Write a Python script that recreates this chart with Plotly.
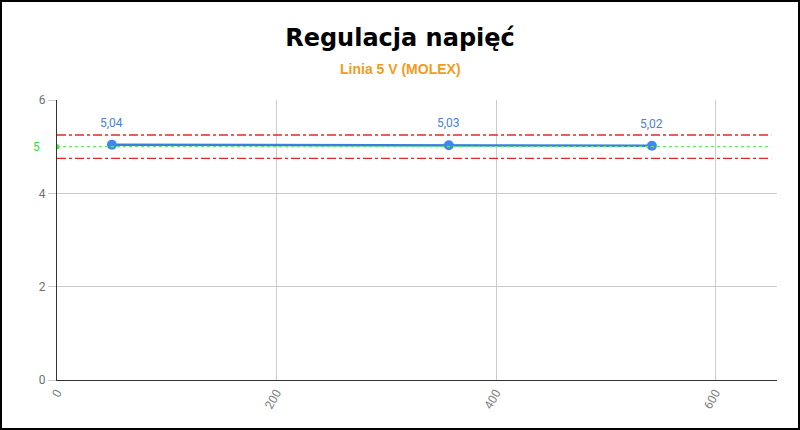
import plotly.graph_objects as go

# obciazenie [W] vs napiecie linii 5 V
load = [50, 357, 542]
voltage = [5.04, 5.03, 5.02]
labels = ["5,04", "5,03", "5,02"]
nominal = 5.0
tolerance = 0.05  # +/- 5 %
y_ticks = [0, 2, 4, 6]
x_ticks = [0, 200, 400, 600]

upper = nominal * (1 + tolerance)
lower = nominal * (1 - tolerance)

fig = go.Figure()

# linia nominalna 5 V
fig.add_shape(type="line", xref="paper", yref="y", x0=0, x1=0.992, y0=nominal, y1=nominal,
              line=dict(color="#5cf05c", width=1.1, dash="dot"))
# granice tolerancji
for lim in (upper, lower):
    fig.add_shape(type="line", xref="paper", yref="y", x0=0, x1=0.992, y0=lim, y1=lim,
                  line=dict(color="#e02a2a", width=1.4, dash="dashdot"))

fig.add_trace(go.Scatter(x=[0], y=[nominal], mode="markers",
                         marker=dict(color="#33dd33", size=5), showlegend=False, hoverinfo="skip"))
fig.add_trace(go.Scatter(name="5 V", x=load, y=voltage, mode="lines+markers",
                         line=dict(color="#3a7fe0", width=2.5),
                         marker=dict(color="#4285f4", size=10, line=dict(width=0)),
                         showlegend=False))

# etykiety wartosci nad punktami
for xv, yv, lab in zip(load, voltage, labels):
    fig.add_annotation(x=xv, y=yv, text=lab, showarrow=False, yshift=22,
                       font=dict(family="Roboto", size=12, color="#4a80d8"))

fig.update_layout(
    width=800, height=430,
    margin=dict(l=57, r=23, t=100, b=50),
    paper_bgcolor="white", plot_bgcolor="white",
    title=dict(text="<b>Regulacja napięć</b>", x=0.5, xanchor="center",
               y=1 - 38 / 430, yanchor="middle",
               font=dict(family="DejaVu Sans", size=24, color="black")),
    font=dict(family="Roboto", size=12, color="#666666"),
)
fig.add_annotation(text="<b>Linia 5 V (MOLEX)</b>", xref="paper", yref="paper",
                   x=(400 - 57) / 720, y=1 + 31 / 280, xanchor="center", yanchor="middle",
                   showarrow=False,
                   font=dict(family="Liberation Sans", size=14, color="#f39c1a"))
fig.add_annotation(text="5", xref="paper", yref="y", x=0, y=nominal, xanchor="right",
                   xshift=-15, showarrow=False,
                   font=dict(family="Roboto", size=12, color="#33dd33"))

fig.update_xaxes(range=[0, 656], tickvals=x_ticks, tickangle=-60, showgrid=True,
                 gridcolor="#cccccc", zeroline=False, showline=True, linecolor="#333333",
                 linewidth=1.2, ticks="", tickfont=dict(color="#808080", size=12))
fig.update_yaxes(range=[0, 6], tickvals=y_ticks, showgrid=True, gridcolor="#cccccc",
                 zeroline=False, showline=True, linecolor="#333333", linewidth=1.2,
                 ticks="outside", ticklen=8, tickcolor="#cccccc",
                 tickfont=dict(color="#707070", size=12))

# ramka wokol wykresu
fig.add_shape(type="rect", xref="paper", yref="paper",
              x0=-56 / 720, x1=1 + 22 / 720, y0=-49 / 280, y1=1 + 99 / 280,
              line=dict(color="black", width=2))

fig.write_html("out.html", config={"displayModeBar": False},
               post_script="document.body.style.margin='0';")
